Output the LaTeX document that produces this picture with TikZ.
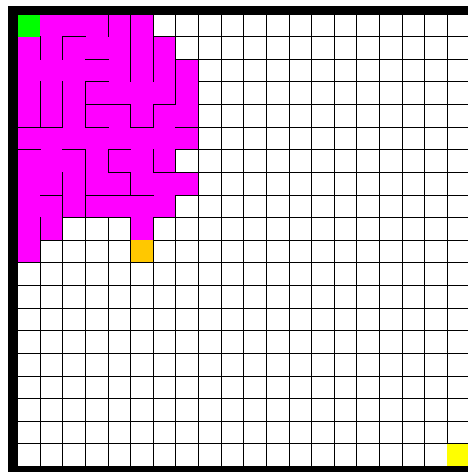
\documentclass[tikz,border=0pt]{standalone}
\definecolor{mazemag}{RGB}{255,0,255}
\definecolor{mazegreen}{RGB}{0,255,0}
\definecolor{mazeorange}{RGB}{255,200,0}
\definecolor{mazeyellow}{RGB}{255,255,0}
\tikzset{
  gridline/.style={black, line width=1.0pt},
  wall/.style={black, line width=1.0pt, line join=miter, line cap=rect},
}
\begin{document}
\begin{tikzpicture}[x=1pt,y=-1pt]
\useasboundingbox (0,0) rectangle (468,472);
\fill[white] (0,0) rectangle (468,472);
\begin{scope}[shift={(17.5,14)}, x=22.63pt, y=-22.63pt]
  % full grid
  \foreach \i in {0,...,20} {
    \draw[gridline] (\i,0) -- (\i,20);
    \draw[gridline] (0,\i) -- (20,\i);
  }
  % visited region
  \path[fill=mazemag] (0,0) -- (6,0) -- (6,1) -- (7,1) -- (7,2) -- (8,2) -- (8,6) -- (7,6) -- (7,7) -- (8,7) -- (8,8) -- (7,8) -- (7,9) -- (6,9) -- (6,11) -- (5,11) -- (5,9) -- (2,9) -- (2,10) -- (1,10) -- (1,11) -- (0,11) -- cycle;
  \fill[mazegreen] (0,0) rectangle (1,1);
  \fill[mazeorange] (5,10) rectangle (6,11);
  \fill[mazeyellow] (19,19) rectangle (20,20);
  % outline of visited region
  \draw[wall] (0,0) -- (6,0) -- (6,1) -- (7,1) -- (7,2) -- (8,2) -- (8,6) -- (7,6) -- (7,7) -- (8,7) -- (8,8) -- (7,8) -- (7,9) -- (6,9) -- (6,11) -- (5,11) -- (5,9) -- (2,9) -- (2,10) -- (1,10) -- (1,11) -- (0,11) -- cycle;
  % internal walls
  \draw[wall] (4,0) -- (4,1);
  \draw[wall] (5,0) -- (5,3);
  \draw[wall] (6,1) -- (6,3);
  \draw[wall] (1,1) -- (1,2);
  \draw[wall] (2,2) -- (2,1) -- (3,1);
  \draw[wall] (3,2) -- (4,2);
  \draw[wall] (7,2) -- (7,4);
  \draw[wall] (1,3) -- (1,5);
  \draw[wall] (2,3) -- (2,5);
  \draw[wall] (0,5) -- (2,5);
  \draw[wall] (4,3) -- (3,3) -- (3,5);
  \draw[wall] (3,4) -- (5,4) -- (5,5);
  \draw[wall] (3,5) -- (4,5);
  \draw[wall] (5,5) -- (6,5) -- (6,4) -- (7,4);
  \draw[wall] (7,5) -- (8,5);
  \draw[wall] (0,6) -- (1,6);
  \draw[wall] (2,6) -- (3,6) -- (3,9);
  \draw[wall] (2,7) -- (2,9);
  \draw[wall] (5,6) -- (4,6) -- (4,7) -- (5,7) -- (5,8);
  \draw[wall] (6,6) -- (6,7) -- (8,7);
  \draw[wall] (1,8) -- (2,8);
  \draw[wall] (3,8) -- (6,8);
  \draw[wall] (1,9) -- (1,10);
\end{scope}
% thick frame
\fill[black, even odd rule] (8,6) rectangle (480,480) (17.5,14) rectangle (470.1,466);
\end{tikzpicture}
\end{document}
